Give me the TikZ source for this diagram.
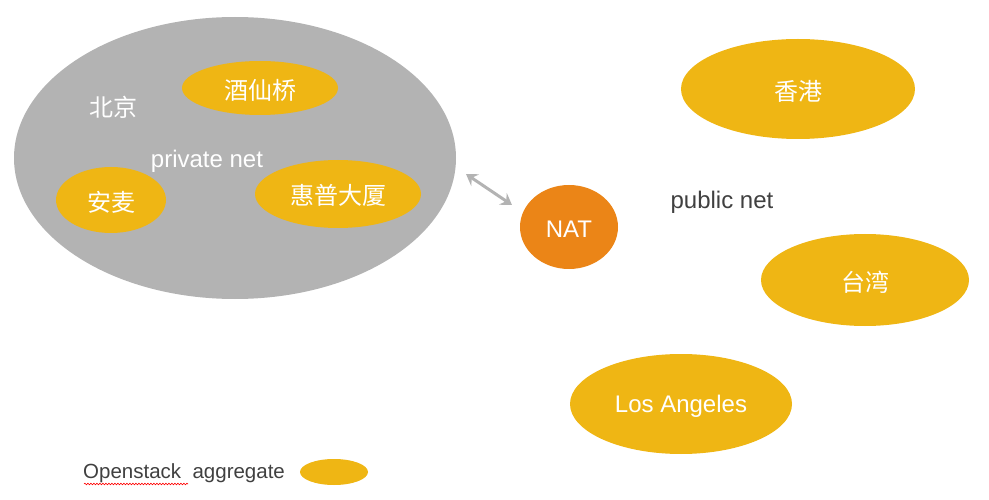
\documentclass[tikz,border=0pt]{standalone}
\usepackage{fontspec}
\setmainfont{Liberation Sans}
\newfontfamily\cjk{Noto Sans CJK SC}
\usetikzlibrary{arrows.meta,decorations.pathmorphing}
\definecolor{gold}{RGB}{239,182,20}
\definecolor{natorange}{RGB}{235,133,23}
\definecolor{cloudgray}{RGB}{179,179,179}
\definecolor{darktext}{RGB}{64,64,64}
\tikzset{
  site/.style={text=white,inner sep=0pt,font=\cjk\fontsize{24}{28}\selectfont},
  lbl/.style={inner sep=0pt,font=\fontsize{24}{28}\selectfont},
}
\begin{document}
\begin{tikzpicture}[x=1pt,y=-1pt]
\useasboundingbox (0,0) rectangle (989,500);
% private cloud
\fill[cloudgray] (235,158) ellipse [x radius=221, y radius=141];
\node[site] (bj) at (113,107) {北京};
\node[lbl,text=white] (priv) at (207,161) {private net};
\fill[gold] (260,88) ellipse [x radius=78, y radius=27];
\node[site] (jxq) at (260,90) {酒仙桥};
\fill[gold] (111,200) ellipse [x radius=55, y radius=33];
\node[site] (am) at (111,202) {安麦};
\fill[gold] (338,194) ellipse [x radius=83, y radius=34];
\node[site] (hp) at (338,195) {惠普大厦};
% NAT
\fill[natorange] (569,227) ellipse [x radius=49, y radius=42];
\node[lbl,text=white] (nat) at (569,229) {NAT};
\coordinate (a1) at (466,174);
\coordinate (a2) at (512,205);
\draw[cloudgray,line width=3pt,{Stealth[length=11pt,width=14pt,inset=4pt]}-{Stealth[length=11pt,width=14pt,inset=4pt]}] (a1) -- (a2);
% public
\node[lbl,text=darktext] (pub) at (722,202) {public net};
\fill[gold] (798,89) ellipse [x radius=117, y radius=50];
\node[site] (hk) at (798,91) {香港};
\fill[gold] (865,280) ellipse [x radius=104, y radius=46];
\node[site] (tw) at (865,282) {台湾};
\fill[gold] (681,404) ellipse [x radius=111, y radius=50];
\node[lbl,text=white] (la) at (681,406) {Los Angeles};
% legend
\node[lbl,text=darktext,font=\fontsize{20.5}{24}\selectfont,anchor=west] (leg) at (83,473) {Openstack\ \ aggregate};
\fill[gold] (334,472) ellipse [x radius=34, y radius=13];
\draw[red,line width=0.6pt,decorate,decoration={snake,amplitude=0.8pt,segment length=3pt}] (84,484) -- (188,484);
\end{tikzpicture}
\end{document}
